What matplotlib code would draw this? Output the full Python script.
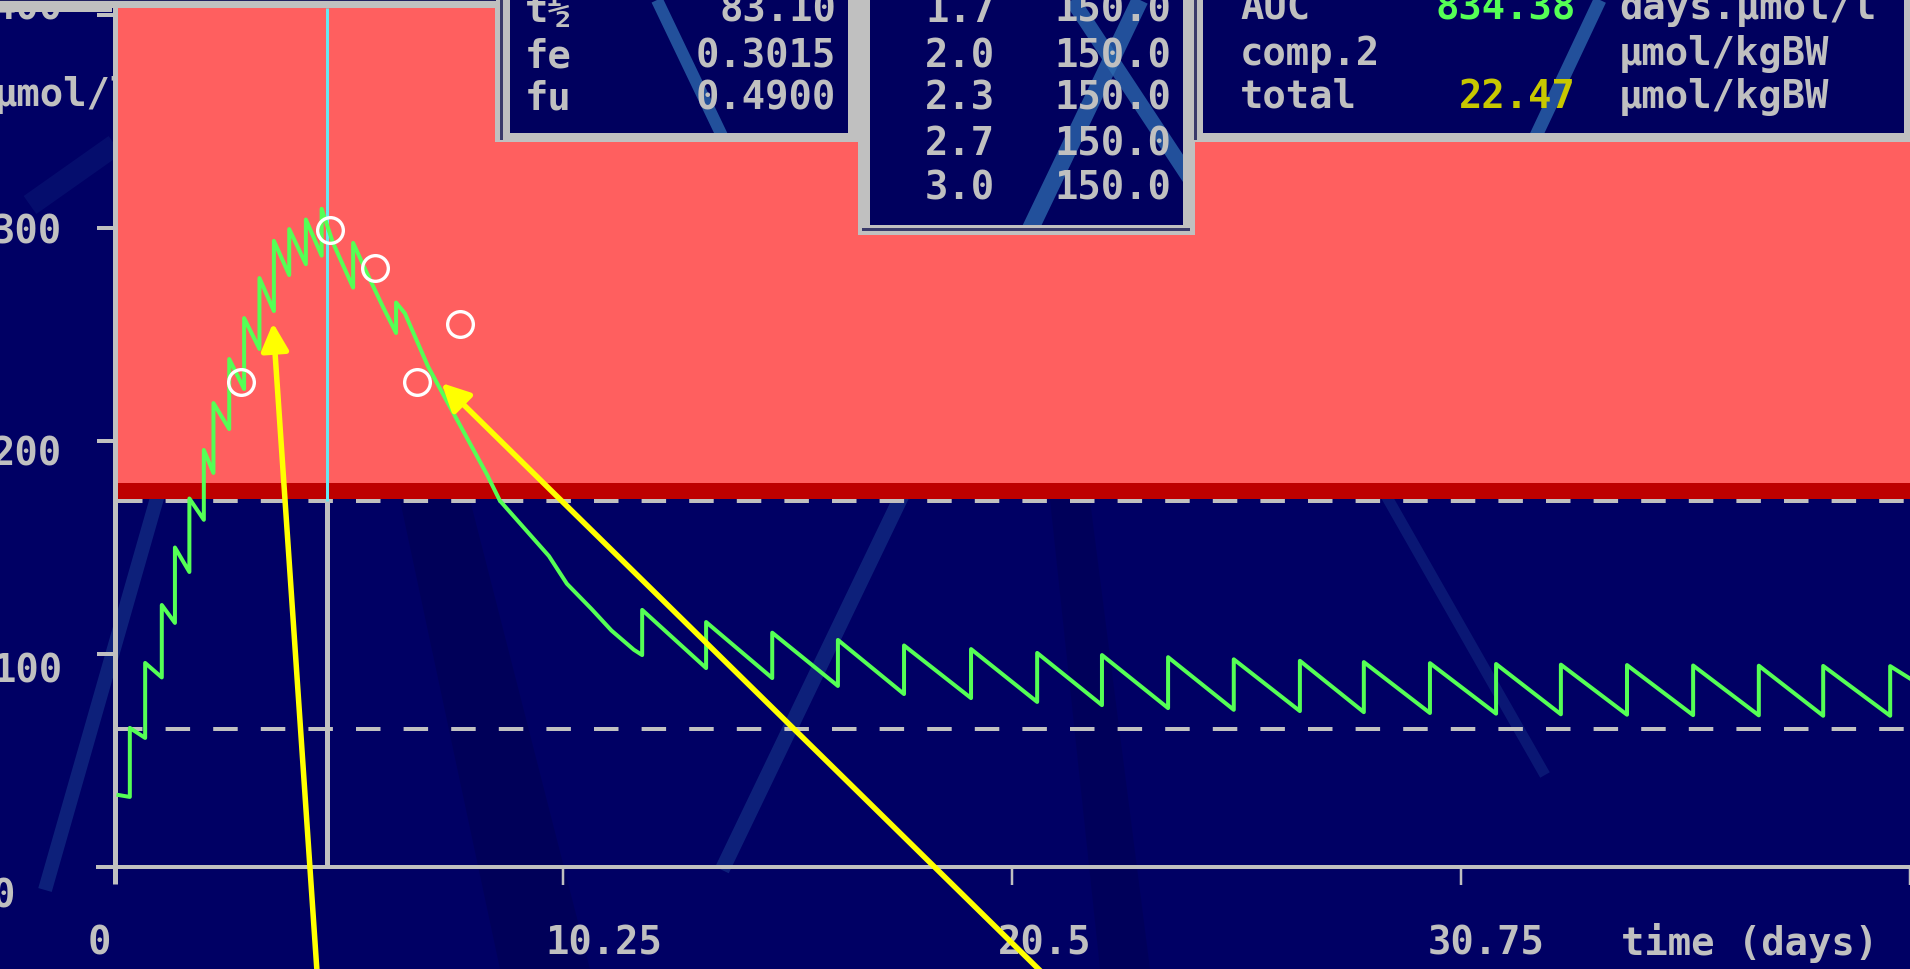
import matplotlib
matplotlib.use("Agg")
import matplotlib.pyplot as plt
import matplotlib.transforms as mtransforms
from matplotlib.patches import Rectangle

plt.rcParams['lines.scale_dashes'] = False

# ---------------- data ----------------
# concentration curve, first phase (days, µmol/l)
early_time = [0.09, 0.35, 0.35, 0.70, 0.70, 1.08, 1.08, 1.38, 1.38, 1.71,
              1.71, 2.04, 2.04, 2.26, 2.26, 2.62, 2.62, 2.96, 2.96, 3.31,
              3.31, 3.64, 3.64, 3.99, 3.99, 4.37, 4.37, 4.73, 4.73,
              4.99, 5.45, 5.45, 5.76, 6.13, 6.43, 6.43, 6.63, 7.16, 7.37,
              8.50, 8.80, 9.92, 10.33, 10.90, 11.35, 11.86, 12.05]
early_conc = [33.8, 32.9, 65.3, 60.6, 95.8, 89.0, 123.0, 114.6, 150.0, 138.5,
              173.0, 163.0, 195.8, 185.0, 217.8, 205.6, 238.5, 224.4, 257.7, 243.2,
              276.5, 261.0, 294.0, 277.9, 299.5, 283.0, 304.0, 287.0, 309.0,
              293.0, 272.0, 293.0, 279.0, 263.0, 250.7, 265.0, 260.0, 235.0, 227.0,
              184.5, 172.0, 146.0, 133.0, 121.0, 111.0, 102.0, 99.5]
# maintenance phase: dose times, pre-dose troughs and post-dose peaks
late_dose_time = [12.05, 13.51, 15.02, 16.52, 18.03, 19.56, 21.07, 22.55, 24.06, 25.56,
                  27.07, 28.53, 30.04, 31.55, 33.03, 34.54, 36.05, 37.55, 39.02, 40.55]
late_trough = [99.5, 93.4, 88.7, 85.0, 81.2, 79.3, 77.5, 76.0, 74.6, 73.8,
               73.2, 72.7, 72.3, 72.0, 71.7, 71.5, 71.3, 71.2, 71.0, 71.0]
late_peak = [120.7, 115.0, 110.0, 106.6, 104.0, 102.3, 100.5, 99.5, 98.5, 97.5,
             96.8, 96.2, 95.7, 95.3, 95.0, 94.8, 94.6, 94.5, 94.4, 94.3]
end_time = 41.0
end_conc = 88.5

# measured levels (open circles)
obs_time = [2.90, 4.92, 5.95, 6.90, 7.89]
obs_conc = [227.8, 299.0, 281.0, 227.8, 255.0]

cursor_time = 4.85
toxic_level = 173.0
toxic_band_top = 180.5
upper_limit = 172.0
lower_limit = 65.0
x_max = 41.0

y_ticks = [0, 100, 200, 300, 400]
y_tick_labels = ['0', '100', '200', '300', '400']
x_ticks = [0, 10.25, 20.5, 30.75, 41.0]
x_tick_labels = ['0', '10.25', '20.5', '30.75']
x_label = 'time (days)'
y_label = 'μmol/l'

param_names = ['t½', 'fe', 'fu']
param_values = ['83.10', '0.3015', '0.4900']
dose_times = ['1.7', '2.0', '2.3', '2.7', '3.0']
dose_amounts = ['150.0', '150.0', '150.0', '150.0', '150.0']
result_names = ['AUC', 'comp.2', 'total']
result_values = ['834.38', '', '22.47']
result_units = ['days.μmol/l', 'μmol/kgBW', 'μmol/kgBW']

# ---------------- style / layout ----------------
W, H = 1910, 969
NAVY = '#000064'
BOXNAVY = '#00005E'
GRAY = '#C0C0C0'
SALMON = '#FF5F5F'
DARKRED = '#BE0000'
GREEN = '#55FF55'
CYAN = '#66E6F2'
YELLOW = '#FFFF00'
OLIVE = '#C8C800'
STREAK = '#2E6CB0'
PT = 0.72  # points per pixel at dpi 100

X_PX0, PX_PER_DAY = 114.5, 43.79
Y_PX0, PX_PER_UNIT = 867.0, 2.13


def dx(px):
    return (px - X_PX0) / PX_PER_DAY


def dy(py):
    return (Y_PX0 - py) / PX_PER_UNIT


fig = plt.figure(figsize=(W / 100, H / 100), dpi=100, facecolor=NAVY)
ax = fig.add_axes([0, 0, 1, 1])
ax.set_xlim(dx(0), dx(W))
ax.set_ylim(dy(H), dy(0))
ax.axis('off')
pix = mtransforms.Affine2D().scale(1 / W, -1 / H).translate(0, 1) + fig.transFigure

FONT = dict(family='DejaVu Sans Mono', fontweight='bold', fontsize=28)

# subtle darker glare wedges
ax.fill([400, 470, 590, 500], [500, 500, 969, 969], transform=pix, color='#000050',
        alpha=0.55, lw=0, zorder=0.5)
ax.fill([1050, 1090, 1150, 1100], [500, 500, 969, 969], transform=pix, color='#000050',
        alpha=0.45, lw=0, zorder=0.5)

# glare streaks on the screen (below the plot content)
for (x0, y0, x1, y1, w, a) in [(45, 890, 165, 470, 14, 0.30),
                               (1140, 0, 722, 870, 15, 0.30),
                               (1380, 485, 1545, 775, 11, 0.22),
                               (30, 205, 115, 145, 22, 0.12)]:
    ax.plot([x0, x1], [y0, y1], transform=pix, color=STREAK, lw=w * PT,
            alpha=a, solid_capstyle='butt', zorder=1)

# y-axis unit label (partly hidden by the red zone)
ax.text(-6, 106, y_label, transform=pix, color=GRAY, ha='left', va='baseline',
        zorder=1.5, **FONT)

# toxic zone
ax.add_patch(Rectangle((0, toxic_level), x_max, dy(8) - toxic_level,
                       facecolor=SALMON, edgecolor='none', zorder=2))
ax.add_patch(Rectangle((0, toxic_level), x_max, toxic_band_top - toxic_level,
                       facecolor=DARKRED, edgecolor='none', zorder=2.1))

# therapeutic limits (dashed)
for lvl in (upper_limit, lower_limit):
    ln, = ax.plot([dx(118), x_max], [lvl, lvl], color=GRAY, lw=4 * PT,
                  solid_capstyle='butt', dash_capstyle='butt', zorder=3)
    ln.set_dashes((24.5 * PT, 23.1 * PT))

# axes lines and ticks
ax.plot([0, 0], [dy(884), dy(0)], color=GRAY, lw=5 * PT, solid_capstyle='butt', zorder=3.2)
ax.plot([dx(96), x_max], [0, 0], color=GRAY, lw=4 * PT, solid_capstyle='butt', zorder=3.2)
for yt in y_ticks[1:]:
    ax.plot([dx(97), 0], [yt, yt], color=GRAY, lw=4 * PT, solid_capstyle='butt', zorder=3.2)
for xt in x_ticks[1:]:
    ax.plot([xt, xt], [0, dy(885)], color=GRAY, lw=2.5 * PT, solid_capstyle='butt', zorder=3.2)

# cursor line
ax.plot([cursor_time, cursor_time], [0, upper_limit], color=GRAY, lw=5 * PT,
        solid_capstyle='butt', zorder=3.1)
ax.plot([cursor_time, cursor_time], [upper_limit, dy(8)], color=CYAN, lw=3 * PT,
        solid_capstyle='butt', zorder=3.1)

# concentration curve
curve_t = list(early_time)
curve_c = list(early_conc)
for i, (td, tr, pk) in enumerate(zip(late_dose_time, late_trough, late_peak)):
    if i > 0:
        curve_t.append(td)
        curve_c.append(tr)
    curve_t.append(td)
    curve_c.append(pk)
curve_t.append(end_time)
curve_c.append(end_conc)
ax.plot(curve_t, curve_c, color=GREEN, lw=4 * PT, zorder=4)

# measured levels
ax.plot(obs_time, obs_conc, 'o', mfc='none', mec='white', ms=18.5, mew=2.4, zorder=5)

# tick labels
y_label_base = [908, 683, 466, 243, 20]
for lab, yb in zip(y_tick_labels, y_label_base):
    ax.text(-8, yb, lab, transform=pix, color=GRAY, ha='left', va='baseline',
            zorder=3.5, **FONT)
x_label_left = [88, 545, 998, 1428]
for lab, xl in zip(x_tick_labels, x_label_left):
    ax.text(xl, 955, lab, transform=pix, color=GRAY, ha='left', va='baseline',
            zorder=3.5, **FONT)
ax.text(1621, 955, x_label, transform=pix, color=GRAY, ha='left', va='baseline',
        zorder=3.5, **FONT)

# top frame band
ax.add_patch(Rectangle((0, -5), 496, 13.5, transform=pix, facecolor=GRAY,
                       edgecolor='none', zorder=6))
ax.add_patch(Rectangle((0, -5), 112, 17.5, transform=pix, facecolor=GRAY,
                       edgecolor='none', zorder=6))
ax.add_patch(Rectangle((0, 0), 496, 1.5, transform=pix, facecolor='#202060',
                       edgecolor='none', zorder=6.1))


def panel(x0, x1, y1, ix0, ix1, iy1, dark=None):
    ax.add_patch(Rectangle((x0, -5), x1 - x0, y1 + 5, transform=pix,
                           facecolor=GRAY, edgecolor='none', zorder=6))
    inner = Rectangle((ix0, -5), ix1 - ix0, iy1 + 5, transform=pix,
                      facecolor=BOXNAVY, edgecolor='none', zorder=6.2)
    ax.add_patch(inner)
    if dark is not None:
        ax.add_patch(Rectangle(dark[:2], dark[2], dark[3], transform=pix,
                               facecolor='#3A3A6A', edgecolor='none', zorder=6.1))
    return inner


inner1 = panel(495, 860, 142, 510, 848, 133, dark=(500, -5, 3, 145))
inner2 = panel(858, 1195, 235, 870, 1183, 225, dark=(862, 228, 328, 3))
inner3 = panel(1183, 1915, 142, 1203, 1904, 133, dark=(1194, -5, 3, 145))

# glare streaks inside the panels
for (x0, y0, x1, y1, w, clip) in [(657, 0, 724, 140, 12, inner1),
                                  (1140, 0, 1025, 240, 17, inner2),
                                  (1072, 0, 1192, 182, 15, inner2),
                                  (1600, 0, 1534, 140, 13, inner3)]:
    ln, = ax.plot([x0, x1], [y0, y1], transform=pix, color=STREAK, lw=w * PT,
                  alpha=0.75, solid_capstyle='butt', zorder=6.3)
    ln.set_clip_path(clip)

# panel texts
row_base = [22, 67, 110, 155, 200]
for i, (n, v) in enumerate(zip(param_names, param_values)):
    ax.text(525, row_base[i], n, transform=pix, color=GRAY, ha='left', va='baseline', zorder=7, **FONT)
    ax.text(836, row_base[i], v, transform=pix, color=GRAY, ha='right', va='baseline', zorder=7, **FONT)
for i, (t, a) in enumerate(zip(dose_times, dose_amounts)):
    ax.text(925, row_base[i], t, transform=pix, color=GRAY, ha='left', va='baseline', zorder=7, **FONT)
    ax.text(1171, row_base[i], a, transform=pix, color=GRAY, ha='right', va='baseline', zorder=7, **FONT)
res_base = [19, 65, 108]
res_colors = [GREEN, GRAY, OLIVE]
for i, (n, v, u) in enumerate(zip(result_names, result_values, result_units)):
    ax.text(1240, res_base[i], n, transform=pix, color=GRAY, ha='left', va='baseline', zorder=7, **FONT)
    ax.text(1576, res_base[i], v, transform=pix, color=res_colors[i], ha='right', va='baseline', zorder=7, **FONT)
    ax.text(1619, res_base[i], u, transform=pix, color=GRAY, ha='left', va='baseline', zorder=7, **FONT)

# yellow annotation arrows
arrow_style = dict(arrowstyle='-|>,head_length=1.0,head_width=0.5', color=YELLOW,
                   lw=5.5 * PT, mutation_scale=16.5, shrinkA=0, shrinkB=0)
ax.annotate('', xy=(3.62, 255.4), xytext=(4.66, -60.0), arrowprops=arrow_style,
            annotation_clip=False, zorder=10)
ax.annotate('', xy=(7.47, 227.2), xytext=(21.7, -60.0), arrowprops=arrow_style,
            annotation_clip=False, zorder=10)

fig.savefig('out.png', dpi=100, facecolor=NAVY)
